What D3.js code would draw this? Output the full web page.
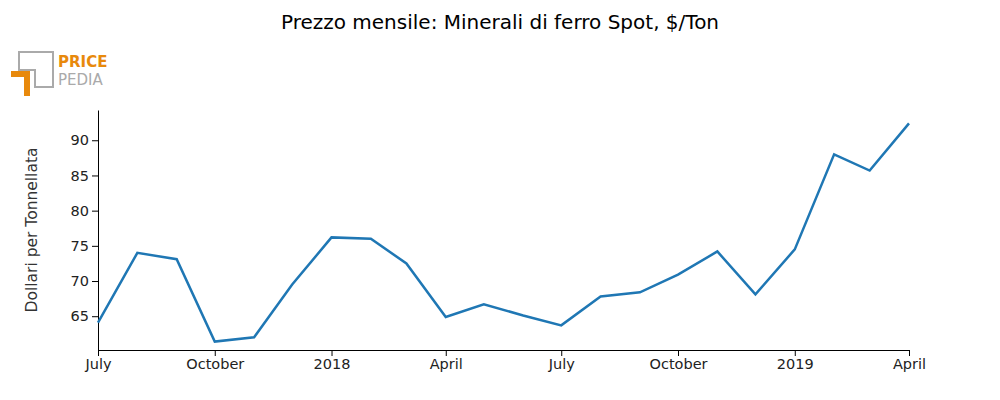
<!DOCTYPE html>
<meta charset="utf-8">
<script src="https://cdn.jsdelivr.net/npm/d3@7"></script>
<style>
body { margin: 0; background: #fff; font-family: "DejaVu Sans", sans-serif; }
</style>
<body>
<div id="chart"></div>
<script>
var width = 1000, height = 400;
var margin = {top: 110, right: 91, bottom: 50, left: 98};

// Monthly data
var months = ["2017-07","2017-08","2017-09","2017-10","2017-11","2017-12",
              "2018-01","2018-02","2018-03","2018-04","2018-05","2018-06",
              "2018-07","2018-08","2018-09","2018-10","2018-11","2018-12",
              "2019-01","2019-02","2019-03","2019-04"];
var prices = [64.1, 74.0, 73.1, 61.4, 62.0, 69.5,
              76.2, 76.0, 72.5, 64.9, 66.7, 65.1,
              63.7, 67.8, 68.4, 70.9, 74.2, 68.1,
              74.5, 88.0, 85.7, 92.4];
var yTicks = [65, 70, 75, 80, 85, 90];
var xTicks = ["2017-07","2017-10","2018-01","2018-04","2018-07","2018-10","2019-01","2019-04"];
var xTickLabels = ["July","October","2018","April","July","October","2019","April"];

var parse = d3.timeParse("%Y-%m");
var data = months.map(function(m, i) { return {date: parse(m), value: prices[i]}; });

var svg = d3.select("#chart").append("svg")
    .attr("width", width).attr("height", height);

svg.append("text")
   .attr("x", 500).attr("y", 29)
   .attr("text-anchor", "middle")
   .attr("font-size", 20)
   .attr("fill", "#000")
   .text("Prezzo mensile: Minerali di ferro Spot, $/Ton");

// logo
var logo = svg.append("g");
logo.append("path").attr("d", "M19,52 H53 V87 H35 V70 H19 Z").attr("fill", "none")
    .attr("stroke", "#aaa").attr("stroke-width", 2);
logo.append("path").attr("d", "M11,71 H30 V96 H24 V77 H11 Z").attr("fill", "#e8890c");
logo.append("text").attr("x", 58).attr("y", 67).attr("font-size", 15)
    .attr("font-weight", "bold").attr("fill", "#e8890c").text("PRICE");
logo.append("text").attr("x", 58).attr("y", 85).attr("font-size", 15)
    .attr("fill", "#aaa").text("PEDIA");

var x = d3.scaleTime()
    .domain([parse("2017-07"), parse("2019-04")])
    .range([margin.left, width - margin.right]);
var y = d3.scaleLinear()
    .domain([60.2, 94.3])
    .range([height - margin.bottom, margin.top]);

svg.append("g")
    .attr("transform", "translate(0," + (height - margin.bottom) + ")")
    .call(d3.axisBottom(x).tickValues(xTicks.map(parse))
        .tickFormat(function(d, i) { return xTickLabels[i]; }).tickSizeOuter(0));
svg.append("g")
    .attr("transform", "translate(" + margin.left + ",0)")
    .call(d3.axisLeft(y).tickValues(yTicks).tickSizeOuter(0));

svg.selectAll(".tick text").attr("font-size", 14.5).attr("fill", "#222")
   .attr("font-family", "DejaVu Sans, sans-serif");

svg.append("text")
   .attr("transform", "translate(37," + ((margin.top + height - margin.bottom) / 2) + ") rotate(-90)")
   .attr("text-anchor", "middle")
   .attr("font-size", 15.5)
   .attr("fill", "#333")
   .text("Dollari per Tonnellata");

svg.append("path")
   .datum(data)
   .attr("fill", "none")
   .attr("stroke", "#1f77b4")
   .attr("stroke-width", 2.5)
   .attr("d", d3.line().x(function(d) { return x(d.date); }).y(function(d) { return y(d.value); }));
</script>
</body>
